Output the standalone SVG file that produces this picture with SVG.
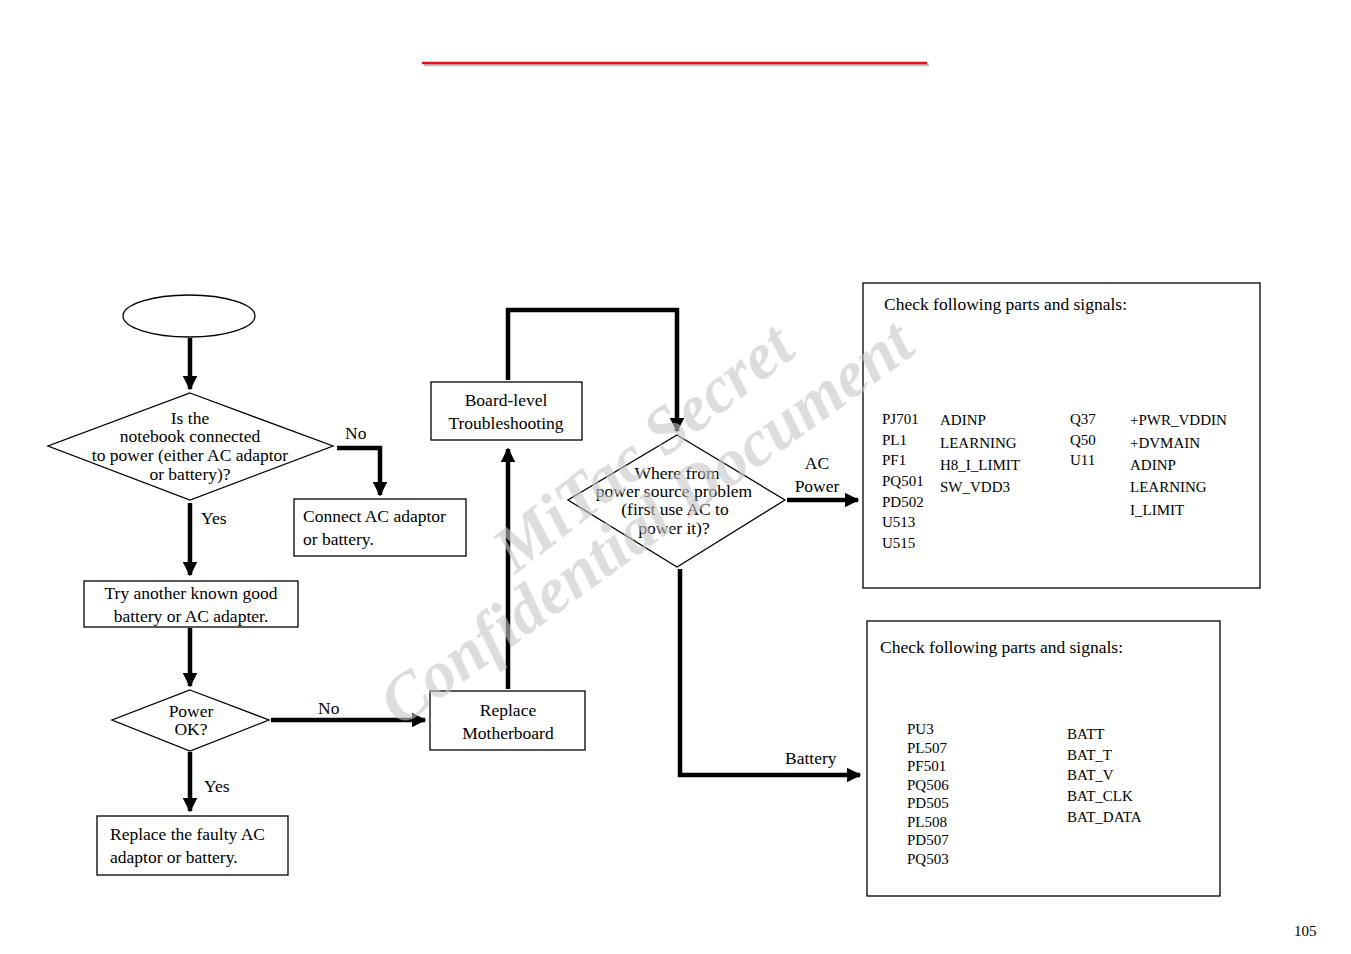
<svg xmlns="http://www.w3.org/2000/svg" width="1351" height="954" viewBox="0 0 1351 954">
<defs>
<style>
text{font-family:"Liberation Serif","Times New Roman",serif;font-size:17.5px;fill:#000}
.s{font-size:15px}
.c{text-anchor:middle}
.box{fill:#fff;stroke:#000;stroke-width:1.3}
.ln{fill:none;stroke:#000;stroke-width:4.5}
.wm{font-family:"Liberation Serif",serif;font-weight:bold;font-style:italic;font-size:66px;fill:#c8c8c8;opacity:0.6}
</style>
<marker id="ah" viewBox="0 0 10 10" refX="9" refY="5" markerWidth="3.2" markerHeight="3.2" orient="auto" markerUnits="strokeWidth"><path d="M0,0L10,5L0,10z" fill="#000"/></marker>
</defs>
<rect width="1351" height="954" fill="#fff"/>
<line x1="424" y1="65" x2="929" y2="65" stroke="#c0c0c0" stroke-width="2.5"/>
<line x1="422" y1="63" x2="927" y2="63" stroke="#e81010" stroke-width="2.5"/>
<g id="connectors">
<path class="ln" d="M190,338V389" marker-end="url(#ah)"/>
<path class="ln" d="M337,448H380V495" marker-end="url(#ah)"/>
<path class="ln" d="M190,503V575" marker-end="url(#ah)"/>
<path class="ln" d="M190,628V686" marker-end="url(#ah)"/>
<path class="ln" d="M271,720H425" marker-end="url(#ah)"/>
<path class="ln" d="M190,752V811" marker-end="url(#ah)"/>
<path class="ln" d="M508,689V449" marker-end="url(#ah)"/>
<path class="ln" d="M508,380V310H677V431" marker-end="url(#ah)"/>
<path class="ln" d="M787,500H858" marker-end="url(#ah)"/>
<path class="ln" d="M680,569V775H860" marker-end="url(#ah)"/>
</g>
<g id="start"><ellipse cx="189" cy="316" rx="66" ry="21" class="box"/></g>
<g id="q1"><polygon class="box" points="190,393 333,446 190,500 48,446"/>
<text class="c" x="190" y="424">Is the</text><text class="c" x="190" y="442">notebook connected</text><text class="c" x="190" y="461">to power (either AC adaptor</text><text class="c" x="190" y="480">or battery)?</text></g>
<text x="345" y="439">No</text>
<text x="201" y="524">Yes</text>
<g id="connect"><rect class="box" x="294" y="499" width="172" height="57"/>
<text x="303" y="522">Connect AC adaptor</text><text x="303" y="545">or battery.</text></g>
<g id="try"><rect class="box" x="84" y="581" width="214" height="46"/>
<text class="c" x="191" y="599">Try another known good</text><text class="c" x="191" y="622">battery or AC adapter.</text></g>
<g id="q2"><polygon class="box" points="190,690 269,720 190,751 112,720"/>
<text class="c" x="191" y="717">Power</text><text class="c" x="191" y="735">OK?</text></g>
<text x="318" y="714">No</text>
<text x="204" y="792">Yes</text>
<g id="replaceac"><rect class="box" x="97" y="816" width="191" height="59"/>
<text x="110" y="840">Replace the faulty AC</text><text x="110" y="863">adaptor or battery.</text></g>
<g id="replacemb"><rect class="box" x="430" y="691" width="155" height="59"/>
<text class="c" x="508" y="716">Replace</text><text class="c" x="508" y="739">Motherboard</text></g>
<g id="board"><rect class="box" x="431" y="382" width="151" height="58"/>
<text class="c" x="506" y="406">Board-level</text><text class="c" x="506" y="429">Troubleshooting</text></g>
<g id="q3"><polygon class="box" points="677,435 785,500 677,567 568,500"/>
<text class="c" x="677" y="479">Where from</text><text class="c" x="674" y="497">power source problem</text><text class="c" x="675" y="515">(first  use AC to</text><text class="c" x="674" y="534">power it)?</text></g>
<text class="c" x="817" y="469">AC</text><text class="c" x="817" y="492">Power</text>
<text x="785" y="764">Battery</text>
<g id="acbox"><rect class="box" x="863" y="283" width="397" height="305"/>
<text x="884" y="310">Check following parts and signals:</text>
<text class="s" x="882" y="424">PJ701</text><text class="s" x="882" y="445">PL1</text><text class="s" x="882" y="465">PF1</text><text class="s" x="882" y="486">PQ501</text><text class="s" x="882" y="507">PD502</text><text class="s" x="882" y="527">U513</text><text class="s" x="882" y="548">U515</text>
<text class="s" x="940" y="425">ADINP</text><text class="s" x="940" y="448">LEARNING</text><text class="s" x="940" y="470">H8_I_LIMIT</text><text class="s" x="940" y="492">SW_VDD3</text>
<text class="s" x="1070" y="424">Q37</text><text class="s" x="1070" y="445">Q50</text><text class="s" x="1070" y="465">U11</text>
<text class="s" x="1130" y="425">+PWR_VDDIN</text><text class="s" x="1130" y="448">+DVMAIN</text><text class="s" x="1130" y="470">ADINP</text><text class="s" x="1130" y="492">LEARNING</text><text class="s" x="1130" y="515">I_LIMIT</text></g>
<g id="batbox"><rect class="box" x="867" y="621" width="353" height="275"/>
<text x="880" y="653">Check following parts and signals:</text>
<text class="s" x="907" y="734">PU3</text><text class="s" x="907" y="753">PL507</text><text class="s" x="907" y="771">PF501</text><text class="s" x="907" y="790">PQ506</text><text class="s" x="907" y="808">PD505</text><text class="s" x="907" y="827">PL508</text><text class="s" x="907" y="845">PD507</text><text class="s" x="907" y="864">PQ503</text>
<text class="s" x="1067" y="739">BATT</text><text class="s" x="1067" y="760">BAT_T</text><text class="s" x="1067" y="780">BAT_V</text><text class="s" x="1067" y="801">BAT_CLK</text><text class="s" x="1067" y="822">BAT_DATA</text></g>
<text class="s" x="1294" y="936">105</text>
<g id="watermark">
<text class="wm" transform="translate(515,575) rotate(-38)">MiTac Secret</text>
<text class="wm" transform="translate(400,728) rotate(-36)">Confidential Document</text>
</g>
</svg>
